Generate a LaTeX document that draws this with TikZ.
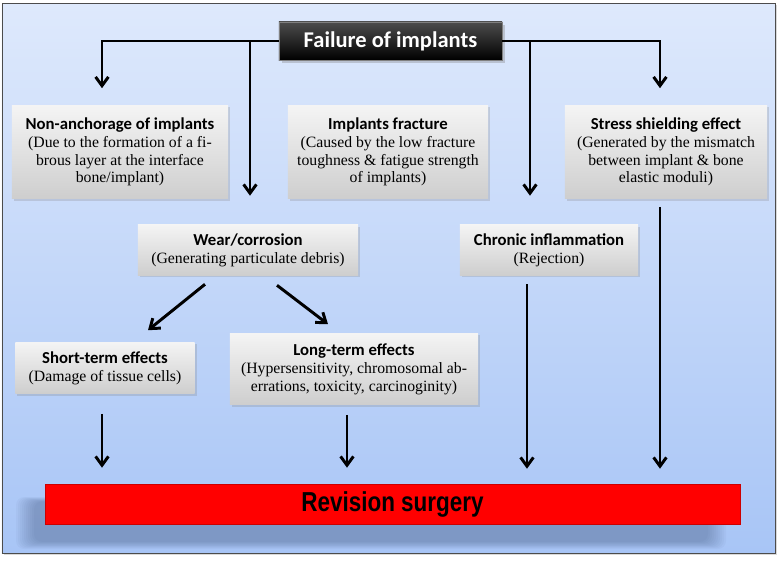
\documentclass[tikz,border=0pt]{standalone}
\usepackage{fontspec}
\usepackage{graphicx}
\setmainfont{Liberation Serif}
\newfontfamily\headfont{Carlito}
\newfontfamily\revfont{Liberation Sans}
\usetikzlibrary{shadows,positioning,arrows.meta}
\definecolor{bgtop}{RGB}{222,233,252}
\definecolor{bgbot}{RGB}{168,197,246}
\definecolor{boxtop}{RGB}{244,244,244}
\definecolor{boxbot}{RGB}{206,206,206}
\definecolor{shadowblue}{RGB}{60,80,120}

\begin{document}
\begin{tikzpicture}[x=0.025cm,y=-0.025cm,
    box/.style={top color=boxtop,bottom color=boxbot,align=center,inner sep=2pt,
        drop shadow={opacity=0.25,shadow xshift=0.05cm,shadow yshift=-0.05cm},
        font=\fontsize{11.2}{12.7}\selectfont},
    arr/.style={-{Straight Barb[length=0.22cm,width=0.32cm]},line width=2.1pt}]
    \useasboundingbox (0,0) rectangle (779,561);
    \draw[gray!60!black,top color=bgtop,bottom color=bgbot,
        drop shadow={opacity=0.3,shadow xshift=0.04cm,shadow yshift=-0.04cm}] (2,3) rectangle (775,553);

    \node[draw=gray,top color=black!70,bottom color=black,minimum width=5.575cm,minimum height=0.95cm,
        text=white,font=\headfont\bfseries\fontsize{16}{18}\selectfont,
        drop shadow={opacity=0.35}] at (390.5,41) (title) {Failure of implants};

    \node[box,minimum width=5.4cm,minimum height=2.325cm] at (120,152) (anch)
        {{\headfont\bfseries\fontsize{11.9}{13}\selectfont Non-anchorage of implants}\\(Due to the formation of a fi-\\brous layer at the interface\\bone/implant)};
    \node[box,minimum width=5cm,minimum height=2.325cm] at (388,152) (frac)
        {{\headfont\bfseries\fontsize{11.9}{13}\selectfont Implants fracture}\\(Caused by the low fracture\\toughness \& fatigue strength\\of implants)};
    \node[box,minimum width=5.05cm,minimum height=2.325cm] at (666,152) (stress)
        {{\headfont\bfseries\fontsize{11.9}{13}\selectfont Stress shielding effect}\\(Generated by the mismatch\\between implant \& bone\\elastic moduli)};

    \node[box,minimum width=5.5cm,minimum height=1.25cm] at (248,250) (wear)
        {{\headfont\bfseries\fontsize{11.9}{13}\selectfont Wear/corrosion}\\(Generating particulate debris)};
    \node[box,minimum width=4.45cm,minimum height=1.25cm] at (549,250) (chron)
        {{\headfont\bfseries\fontsize{11.9}{13}\selectfont Chronic inflammation}\\(Rejection)};

    \node[box,minimum width=4.475cm,minimum height=1.275cm] at (105,368) (short)
        {{\headfont\bfseries\fontsize{11.9}{13}\selectfont Short-term effects}\\(Damage of tissue cells)};
    \node[box,minimum width=6.2cm,minimum height=1.775cm] at (354,369) (long)
        {{\headfont\bfseries\fontsize{11.9}{13}\selectfont Long-term effects}\\(Hypersensitivity, chromosomal ab-\\errations, toxicity, carcinoginity)};

    \foreach \i in {0,...,9}
        \fill[shadowblue,opacity=0.045,rounded corners=0.2cm] (16+\i*2,497+\i*0.5) rectangle (726-\i*2,549-\i*0.8);
    \node[draw=red!80!black,fill=red,minimum width=17.375cm,minimum height=1cm,
        font=\revfont\bfseries\fontsize{19.5}{21}\selectfont] at (392.5,504) (rev)
        {\scalebox{0.82}[1]{Revision surgery}};

    \draw[arr,shorten >=0.425cm] (title.west) -| ([xshift=-0.45cm]anch.north);
    \draw[arr,shorten >=0.725cm] (title.west) -| ([xshift=0.05cm]wear.north);
    \draw[arr,shorten >=0.725cm] (title.east) -| ([xshift=-0.475cm]chron.north);
    \draw[arr,shorten >=0.425cm] (title.east) -| ([xshift=-0.15cm]stress.north);

    \draw[arr] ([xshift=-1.075cm,yshift=-0.225cm]wear.south) -- ([xshift=1.075cm,yshift=0.3cm]short.north);
    \draw[arr] ([xshift=0.725cm,yshift=-0.25cm]wear.south) -- ([xshift=-0.65cm,yshift=0.225cm]long.north);

    \draw[arr,shorten >=0.4cm] ([xshift=-0.075cm,yshift=-0.5cm]short.south) -- ([xshift=-0.075cm]short.south |- rev.north);
    \draw[arr,shorten >=0.4cm] ([xshift=-0.175cm,yshift=-0.25cm]long.south) -- ([xshift=-0.175cm]long.south |- rev.north);
    \draw[arr,shorten >=0.375cm] ([xshift=-0.55cm,yshift=-0.225cm]chron.south) -- ([xshift=-0.55cm]chron.south |- rev.north);
    \draw[arr,shorten >=0.375cm] ([xshift=-0.15cm,yshift=-0.2cm]stress.south) -- ([xshift=-0.15cm]stress.south |- rev.north);
\end{tikzpicture}
\end{document}
